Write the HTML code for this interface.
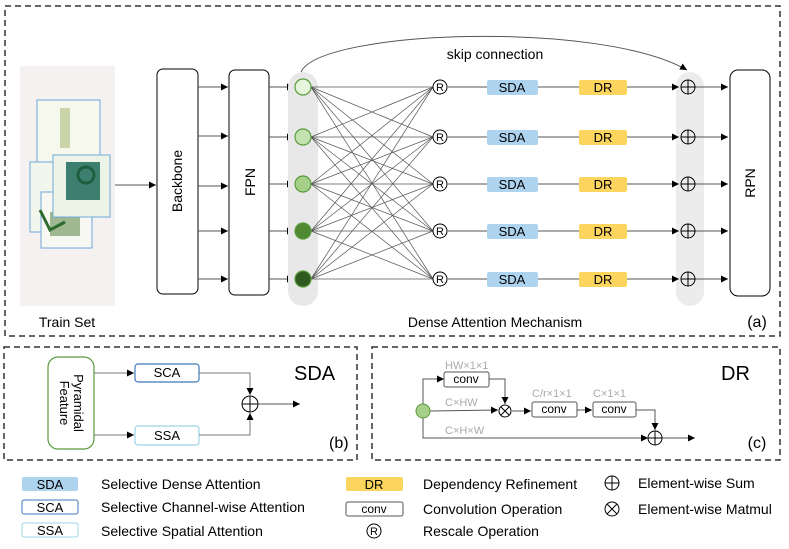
<!DOCTYPE html>
<html><head><meta charset="utf-8"><style>
html,body{margin:0;padding:0;background:#fff}
svg{display:block;font-family:"Liberation Sans",Arial,sans-serif}
</style></head><body>
<svg width="789" height="549" viewBox="0 0 789 549" xmlns="http://www.w3.org/2000/svg">
<defs>
<marker id="a" markerWidth="8" markerHeight="8" refX="7" refY="4" orient="auto" markerUnits="userSpaceOnUse"><path d="M0,0.5 L7,4 L0,7.5 Z" fill="#000"/></marker>
</defs>
<g fill="none" stroke="#333" stroke-width="1.5" stroke-dasharray="6,4">
<rect x="5" y="6" width="775" height="330"/>
<rect x="4" y="347" width="353" height="113"/>
<rect x="372" y="347" width="408" height="113"/>
</g>
<rect x="20" y="66" width="95" height="240" fill="#f4f1f0"/>
<rect x="37" y="100" width="63" height="62" fill="#f6f8ee" stroke="#6fa8dc"/>
<path d="M60 108 h10 v40 h-10z" fill="#c9d4a8"/>
<rect x="30" y="162" width="50" height="70" fill="#f2f6ec" stroke="#6fa8dc"/>
<rect x="41" y="192" width="51" height="56" fill="#f7f8f1" stroke="#6fa8dc"/>
<rect x="50" y="212" width="30" height="24" fill="#9fb890"/>
<rect x="53" y="155" width="57" height="62" fill="#eef3e8" stroke="#6fa8dc"/>
<rect x="66" y="162" width="34" height="38" fill="#3d7f6f"/>
<circle cx="86" cy="175" r="8" fill="none" stroke="#1e5e3e" stroke-width="3"/>
<path d="M40 210 l10 20 l15 -8" stroke="#2d6a2d" stroke-width="3" fill="none"/>
<text x="67" y="327" font-size="14" text-anchor="middle">Train Set</text>
<line x1="115" y1="185" x2="156" y2="185" stroke="#555" marker-end="url(#a)"/>
<rect x="157" y="69" width="41" height="225" rx="6" fill="#fff" stroke="#000"/>
<text transform="translate(182,181) rotate(-90)" font-size="14" text-anchor="middle">Backbone</text>
<rect x="229" y="70" width="40" height="225" rx="6" fill="#fff" stroke="#000"/>
<text transform="translate(255,182) rotate(-90)" font-size="14" text-anchor="middle">FPN</text>
<g stroke="#555" marker-end="url(#a)">
<line x1="198" y1="87" x2="228" y2="87"/><line x1="198" y1="136" x2="228" y2="136"/><line x1="198" y1="186" x2="228" y2="186"/><line x1="198" y1="231" x2="228" y2="231"/><line x1="198" y1="279" x2="228" y2="279"/>
<line x1="269" y1="87" x2="294" y2="87"/><line x1="269" y1="137" x2="294" y2="137"/><line x1="269" y1="184" x2="294" y2="184"/><line x1="269" y1="231" x2="294" y2="231"/><line x1="269" y1="279" x2="294" y2="279"/>
</g>
<rect x="288" y="72" width="30" height="234" rx="15" fill="#e8e8e8"/>
<rect x="676" y="72" width="28" height="234" rx="14" fill="#ececec"/>
<path d="M301 72 C 320 30, 600 20, 687 70" fill="none" stroke="#555" marker-end="url(#a)"/>
<text x="495" y="59" font-size="14" text-anchor="middle">skip connection</text>
<g stroke="#555" stroke-width="0.7">
<line x1="311" y1="87" x2="433" y2="87"/><line x1="311" y1="87" x2="433" y2="137"/><line x1="311" y1="87" x2="433" y2="184"/><line x1="311" y1="87" x2="433" y2="231"/><line x1="311" y1="87" x2="433" y2="279"/>
<line x1="311" y1="137" x2="433" y2="87"/><line x1="311" y1="137" x2="433" y2="137"/><line x1="311" y1="137" x2="433" y2="184"/><line x1="311" y1="137" x2="433" y2="231"/><line x1="311" y1="137" x2="433" y2="279"/>
<line x1="311" y1="184" x2="433" y2="87"/><line x1="311" y1="184" x2="433" y2="137"/><line x1="311" y1="184" x2="433" y2="184"/><line x1="311" y1="184" x2="433" y2="231"/><line x1="311" y1="184" x2="433" y2="279"/>
<line x1="311" y1="231" x2="433" y2="87"/><line x1="311" y1="231" x2="433" y2="137"/><line x1="311" y1="231" x2="433" y2="184"/><line x1="311" y1="231" x2="433" y2="231"/><line x1="311" y1="231" x2="433" y2="279"/>
<line x1="311" y1="279" x2="433" y2="87"/><line x1="311" y1="279" x2="433" y2="137"/><line x1="311" y1="279" x2="433" y2="184"/><line x1="311" y1="279" x2="433" y2="231"/><line x1="311" y1="279" x2="433" y2="279"/>
</g>
<g stroke="#5a9a3c" stroke-width="1.2">
<circle cx="303" cy="87" r="8" fill="#e6f6dc"/><circle cx="303" cy="137" r="8" fill="#c4e2b0"/><circle cx="303" cy="184" r="8" fill="#a6d08a"/><circle cx="303" cy="231" r="8" fill="#4f8a33"/><circle cx="303" cy="279" r="8" fill="#2f5a1f"/>
</g>
<g font-size="13" text-anchor="middle">
<g transform="translate(0,0)">
<line x1="448" y1="87" x2="487" y2="87" stroke="#555"/><line x1="538" y1="87" x2="579" y2="87" stroke="#555"/><line x1="627" y1="87" x2="679" y2="87" stroke="#555" marker-end="url(#a)"/><line x1="695" y1="87" x2="728" y2="87" stroke="#555" marker-end="url(#a)"/>
<circle cx="440" cy="87" r="7" fill="#fff" stroke="#000"/><text x="440" y="91" font-size="11">R</text>
<rect x="487" y="80" width="51" height="15" rx="2" fill="#aed3ee"/><text x="512" y="92">SDA</text>
<rect x="579" y="80" width="48" height="15" rx="2" fill="#fcd55f"/><text x="603" y="92">DR</text>
<circle cx="688" cy="87" r="7" fill="none" stroke="#000"/><path d="M681 87h14M688 80v14" stroke="#000"/>
</g>
<g transform="translate(0,50)">
<line x1="448" y1="87" x2="487" y2="87" stroke="#555"/><line x1="538" y1="87" x2="579" y2="87" stroke="#555"/><line x1="627" y1="87" x2="679" y2="87" stroke="#555" marker-end="url(#a)"/><line x1="695" y1="87" x2="728" y2="87" stroke="#555" marker-end="url(#a)"/>
<circle cx="440" cy="87" r="7" fill="#fff" stroke="#000"/><text x="440" y="91" font-size="11">R</text>
<rect x="487" y="80" width="51" height="15" rx="2" fill="#aed3ee"/><text x="512" y="92">SDA</text>
<rect x="579" y="80" width="48" height="15" rx="2" fill="#fcd55f"/><text x="603" y="92">DR</text>
<circle cx="688" cy="87" r="7" fill="none" stroke="#000"/><path d="M681 87h14M688 80v14" stroke="#000"/>
</g>
<g transform="translate(0,97)">
<line x1="448" y1="87" x2="487" y2="87" stroke="#555"/><line x1="538" y1="87" x2="579" y2="87" stroke="#555"/><line x1="627" y1="87" x2="679" y2="87" stroke="#555" marker-end="url(#a)"/><line x1="695" y1="87" x2="728" y2="87" stroke="#555" marker-end="url(#a)"/>
<circle cx="440" cy="87" r="7" fill="#fff" stroke="#000"/><text x="440" y="91" font-size="11">R</text>
<rect x="487" y="80" width="51" height="15" rx="2" fill="#aed3ee"/><text x="512" y="92">SDA</text>
<rect x="579" y="80" width="48" height="15" rx="2" fill="#fcd55f"/><text x="603" y="92">DR</text>
<circle cx="688" cy="87" r="7" fill="none" stroke="#000"/><path d="M681 87h14M688 80v14" stroke="#000"/>
</g>
<g transform="translate(0,144)">
<line x1="448" y1="87" x2="487" y2="87" stroke="#555"/><line x1="538" y1="87" x2="579" y2="87" stroke="#555"/><line x1="627" y1="87" x2="679" y2="87" stroke="#555" marker-end="url(#a)"/><line x1="695" y1="87" x2="728" y2="87" stroke="#555" marker-end="url(#a)"/>
<circle cx="440" cy="87" r="7" fill="#fff" stroke="#000"/><text x="440" y="91" font-size="11">R</text>
<rect x="487" y="80" width="51" height="15" rx="2" fill="#aed3ee"/><text x="512" y="92">SDA</text>
<rect x="579" y="80" width="48" height="15" rx="2" fill="#fcd55f"/><text x="603" y="92">DR</text>
<circle cx="688" cy="87" r="7" fill="none" stroke="#000"/><path d="M681 87h14M688 80v14" stroke="#000"/>
</g>
<g transform="translate(0,192)">
<line x1="448" y1="87" x2="487" y2="87" stroke="#555"/><line x1="538" y1="87" x2="579" y2="87" stroke="#555"/><line x1="627" y1="87" x2="679" y2="87" stroke="#555" marker-end="url(#a)"/><line x1="695" y1="87" x2="728" y2="87" stroke="#555" marker-end="url(#a)"/>
<circle cx="440" cy="87" r="7" fill="#fff" stroke="#000"/><text x="440" y="91" font-size="11">R</text>
<rect x="487" y="80" width="51" height="15" rx="2" fill="#aed3ee"/><text x="512" y="92">SDA</text>
<rect x="579" y="80" width="48" height="15" rx="2" fill="#fcd55f"/><text x="603" y="92">DR</text>
<circle cx="688" cy="87" r="7" fill="none" stroke="#000"/><path d="M681 87h14M688 80v14" stroke="#000"/>
</g>
</g>
<rect x="730" y="70" width="40" height="226" rx="8" fill="#fff" stroke="#000"/>
<text transform="translate(755,183) rotate(-90)" font-size="14" text-anchor="middle">RPN</text>
<text x="495" y="327" font-size="14" text-anchor="middle">Dense Attention Mechanism</text>
<text x="757" y="327" font-size="16" text-anchor="middle">(a)</text>
<rect x="48" y="357" width="46" height="92" rx="10" fill="#fff" stroke="#5a9a3c" stroke-width="1.2"/>
<text transform="translate(74,403) rotate(90)" font-size="13" text-anchor="middle">Pyramidal</text>
<text transform="translate(60,403) rotate(90)" font-size="13" text-anchor="middle">Feature</text>
<line x1="94" y1="373" x2="134" y2="373" stroke="#777" marker-end="url(#a)"/>
<line x1="94" y1="435" x2="134" y2="435" stroke="#777" marker-end="url(#a)"/>
<rect x="135" y="364" width="64" height="18" rx="3" fill="#fff" stroke="#3d78b8" stroke-width="1.2"/><text x="167" y="377" font-size="13" text-anchor="middle">SCA</text>
<rect x="135" y="426" width="64" height="19" rx="3" fill="#fff" stroke="#9ed4e4" stroke-width="1.2"/><text x="167" y="440" font-size="13" text-anchor="middle">SSA</text>
<path d="M199 373 H250 V395" fill="none" stroke="#777" marker-end="url(#a)"/>
<path d="M199 435 H250 V413" fill="none" stroke="#777" marker-end="url(#a)"/>
<circle cx="250" cy="404" r="8" fill="#fff" stroke="#000"/><path d="M242 404h16M250 396v16" stroke="#000"/>
<line x1="258" y1="404" x2="300" y2="404" stroke="#555" marker-end="url(#a)"/>
<text x="294" y="380" font-size="20">SDA</text>
<text x="329" y="448" font-size="16">(b)</text>
<g font-size="11" fill="#aaa">
<text x="445" y="369">HW×1×1</text><text x="445" y="406">C×HW</text><text x="532" y="397">C/r×1×1</text><text x="593" y="397">C×1×1</text><text x="445" y="434">C×H×W</text>
</g>
<path d="M423 404 V379 H444" fill="none" stroke="#555" marker-end="url(#a)"/>
<path d="M489 379 H505 V404" fill="none" stroke="#555" marker-end="url(#a)"/>
<line x1="430" y1="411" x2="498" y2="410" stroke="#555" marker-end="url(#a)"/>
<line x1="512" y1="411" x2="531" y2="411" stroke="#555" marker-end="url(#a)"/>
<line x1="577" y1="410" x2="592" y2="410" stroke="#555" marker-end="url(#a)"/>
<path d="M636 410 H655 V430" fill="none" stroke="#555" marker-end="url(#a)"/>
<path d="M423 418 V438 H648" fill="none" stroke="#555" marker-end="url(#a)"/>
<line x1="662" y1="438" x2="695" y2="438" stroke="#555" marker-end="url(#a)"/>
<rect x="444" y="372" width="45" height="15" rx="2" fill="#fff" stroke="#555"/><text x="466" y="383" font-size="12" text-anchor="middle">conv</text>
<rect x="532" y="402" width="45" height="15" rx="2" fill="#fff" stroke="#555"/><text x="554" y="413" font-size="12" text-anchor="middle">conv</text>
<rect x="593" y="402" width="43" height="15" rx="2" fill="#fff" stroke="#555"/><text x="614" y="413" font-size="12" text-anchor="middle">conv</text>
<circle cx="423" cy="411" r="7" fill="#a6d08a" stroke="#5a9a3c"/>
<circle cx="505" cy="411" r="6" fill="#fff" stroke="#000"/><path d="M501 407l8 8M509 407l-8 8" stroke="#000"/>
<circle cx="655" cy="438" r="7" fill="#fff" stroke="#000"/><path d="M648 438h14M655 431v14" stroke="#000"/>
<text x="721" y="380" font-size="20">DR</text>
<text x="757" y="448" font-size="16" text-anchor="middle">(c)</text>
<g font-size="14">
<rect x="22" y="477" width="56" height="14" rx="2" fill="#aed3ee"/><text x="50" y="489" font-size="13" text-anchor="middle">SDA</text>
<rect x="22" y="500" width="56" height="14" rx="2" fill="#fff" stroke="#3d78b8"/><text x="50" y="512" font-size="13" text-anchor="middle">SCA</text>
<rect x="22" y="523" width="56" height="14" rx="2" fill="#fff" stroke="#9ed4e4"/><text x="50" y="535" font-size="13" text-anchor="middle">SSA</text>
<text x="101" y="489">Selective Dense Attention</text>
<text x="101" y="512">Selective Channel-wise Attention</text>
<text x="101" y="536">Selective Spatial Attention</text>
<rect x="346" y="477" width="57" height="14" rx="2" fill="#fcd55f"/><text x="374" y="489" font-size="13" text-anchor="middle">DR</text>
<rect x="346" y="502" width="57" height="14" rx="2" fill="#fff" stroke="#555"/><text x="374" y="513" font-size="12" text-anchor="middle">conv</text>
<circle cx="374" cy="531" r="7" fill="#fff" stroke="#000"/><text x="374" y="535" font-size="11" text-anchor="middle">R</text>
<text x="423" y="489">Dependency Refinement</text>
<text x="423" y="514">Convolution Operation</text>
<text x="423" y="536">Rescale Operation</text>
<circle cx="612" cy="483" r="7" fill="#fff" stroke="#000"/><path d="M605 483h14M612 476v14" stroke="#000"/>
<circle cx="612" cy="509" r="7" fill="#fff" stroke="#000"/><path d="M607 504l10 10M617 504l-10 10" stroke="#000"/>
<text x="638" y="488">Element-wise Sum</text>
<text x="638" y="514">Element-wise Matmul</text>
</g>
</svg>
</body></html>
